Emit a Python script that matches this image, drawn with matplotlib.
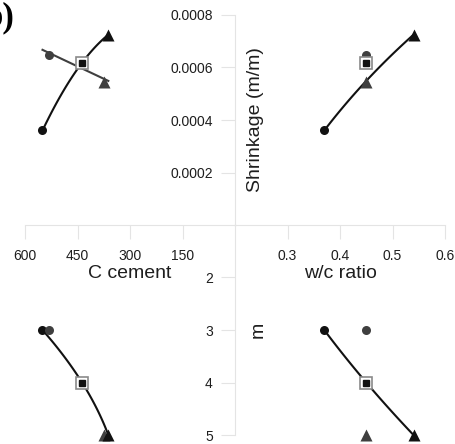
import numpy as np
import matplotlib
matplotlib.use("Agg")
import matplotlib.pyplot as plt

plt.rcParams['font.family'] = ['Liberation Sans', 'DejaVu Sans']

# five mixes: low w/c, high cement, reference, low cement, high w/c
cement = [550, 530, 437, 375, 362]
wc = [0.37, 0.45, 0.45, 0.45, 0.54]
m_val = [3, 3, 4, 5, 5]
shrink = [0.00036, 0.000646, 0.000618, 0.000544, 0.000725]

black_idx = [0, 2, 4]   # w/c series
gray_idx = [1, 2, 3]    # cement series

cement_ticks = [600, 450, 300, 150]
wc_ticks = [0.3, 0.4, 0.5, 0.6]
shrink_ticks = [0.0002, 0.0004, 0.0006, 0.0008]
shrink_labels = ['0.0002', '0.0004', '0.0006', '0.0008']
m_ticks = [2, 3, 4, 5]

BLACK = '#111111'
GRAY = '#3f3f3f'
AXC = '#e4e4e4'
TXT = '#1e1e1e'

W, H = 455, 444
fig = plt.figure(figsize=(W / 100, H / 100), dpi=100)


def box(x0, y0, x1, y1):
    return [x0 / W, 1 - y1 / H, (x1 - x0) / W, (y1 - y0) / H]


ax_tl = fig.add_axes(box(25, 15, 235, 225))
ax_tr = fig.add_axes(box(235, 15, 445, 225))
ax_bl = fig.add_axes(box(25, 225, 235, 435))
ax_br = fig.add_axes(box(235, 225, 445, 435))

for ax in (ax_tl, ax_tr, ax_bl, ax_br):
    ax.patch.set_alpha(0)
    for s in ax.spines.values():
        s.set_visible(False)
    ax.set_xticks([])
    ax.set_yticks([])

ax_tl.set_xlim(600, 0)
ax_bl.set_xlim(600, 0)
ax_tr.set_xlim(0.2, 0.6)
ax_br.set_xlim(0.2, 0.6)
ax_tl.set_ylim(0, 0.0008)
ax_tr.set_ylim(0, 0.0008)
ax_bl.set_ylim(5, 1)
ax_br.set_ylim(5, 1)

# axis lines
for ax, side in ((ax_tl, 'bottom'), (ax_tr, 'bottom'), (ax_tr, 'left'), (ax_br, 'left')):
    ax.spines[side].set_visible(True)
    ax.spines[side].set_color(AXC)
    ax.spines[side].set_linewidth(0.8)
ax_br.spines['left'].set_bounds(1, 5)

tick_kw = dict(direction='out', length=10, width=0.8, color=AXC,
               labelcolor=TXT, labelsize=10)
ax_tl.set_xticks(cement_ticks)
ax_tl.set_xticklabels([str(t) for t in cement_ticks])
ax_tl.tick_params(axis='x', pad=7, **tick_kw)
ax_tr.set_xticks(wc_ticks)
ax_tr.set_xticklabels([str(t) for t in wc_ticks])
ax_tr.tick_params(axis='x', pad=7, **tick_kw)
ax_tr.set_yticks(shrink_ticks)
ax_tr.set_yticklabels(shrink_labels)
ax_tr.tick_params(axis='y', pad=6, **tick_kw)
ax_br.set_yticks(m_ticks)
ax_br.set_yticklabels([str(t) for t in m_ticks])
ax_br.tick_params(axis='y', pad=6, **tick_kw)


def pick(vals, idx):
    return np.array([vals[i] for i in idx])


# trend lines
cx = np.linspace(min(cement), max(cement), 100)
p = np.polyfit(pick(cement, black_idx), pick(shrink, black_idx), 2)
ax_tl.plot(cx, np.polyval(p, cx), color=BLACK, lw=1.5, zorder=2)
p = np.polyfit(pick(cement, gray_idx), pick(shrink, gray_idx), 1)
ax_tl.plot(cx, np.polyval(p, cx), color=GRAY, lw=1.5, zorder=2)

wx = np.linspace(min(wc), max(wc), 100)
ends = [0, 4]
p = np.polyfit(np.log(pick(wc, ends)), pick(shrink, ends), 1)
ax_tr.plot(wx, np.polyval(p, np.log(wx)), color=BLACK, lw=1.5, zorder=2)

mx = np.linspace(3, 5, 100)
p = np.polyfit(pick(m_val, black_idx), pick(cement, black_idx), 2)
ax_bl.plot(np.polyval(p, mx), mx, color=BLACK, lw=1.5, zorder=2)
p = np.polyfit(pick(m_val, black_idx), pick(wc, black_idx), 2)
ax_br.plot(np.polyval(p, mx), mx, color=BLACK, lw=1.5, zorder=2)

# markers
styles = [
    dict(marker='o', color=BLACK, ms=6.5),
    dict(marker='o', color=GRAY, ms=6.5),
    None,
    dict(marker='^', color=GRAY, ms=8.5),
    dict(marker='^', color=BLACK, ms=8.5),
]
panels = [(ax_tl, cement, shrink), (ax_tr, wc, shrink),
          (ax_bl, cement, m_val), (ax_br, wc, m_val)]
for ax, xs, ys in panels:
    for i, st in enumerate(styles):
        if st is None:
            ax.plot(xs[i], ys[i], marker='s', ms=9, mfc='white', mec='#8a8a8a',
                    mew=1.2, ls='none', zorder=4, clip_on=False)
            ax.plot(xs[i], ys[i], marker='s', ms=4.6, color=BLACK, ls='none',
                    zorder=5, clip_on=False)
        else:
            ax.plot(xs[i], ys[i], ls='none', mec='none', zorder=3,
                    clip_on=False, **st)

# axis titles
fig.text(130 / W, 1 - 273 / H, 'C cement', ha='center', va='center',
         fontsize=14, color=TXT)
fig.text(340 / W, 1 - 273 / H, 'w/c ratio', ha='center', va='center',
         fontsize=14, color=TXT)
fig.text(255 / W, 1 - 120 / H, 'Shrinkage (m/m)', ha='center', va='center',
         rotation=90, fontsize=14, color=TXT)
fig.text(258 / W, 1 - 330 / H, 'm', ha='center', va='center',
         rotation=90, fontsize=14, color=TXT)

# panel label, cut at the edge like the source
fig.text(14 / W, 1 - 26 / H, 'b)', ha='right', va='baseline', fontsize=25,
         fontweight='bold', family=['Liberation Serif', 'DejaVu Serif'],
         color='black')

fig.savefig('out.png', dpi=100)
